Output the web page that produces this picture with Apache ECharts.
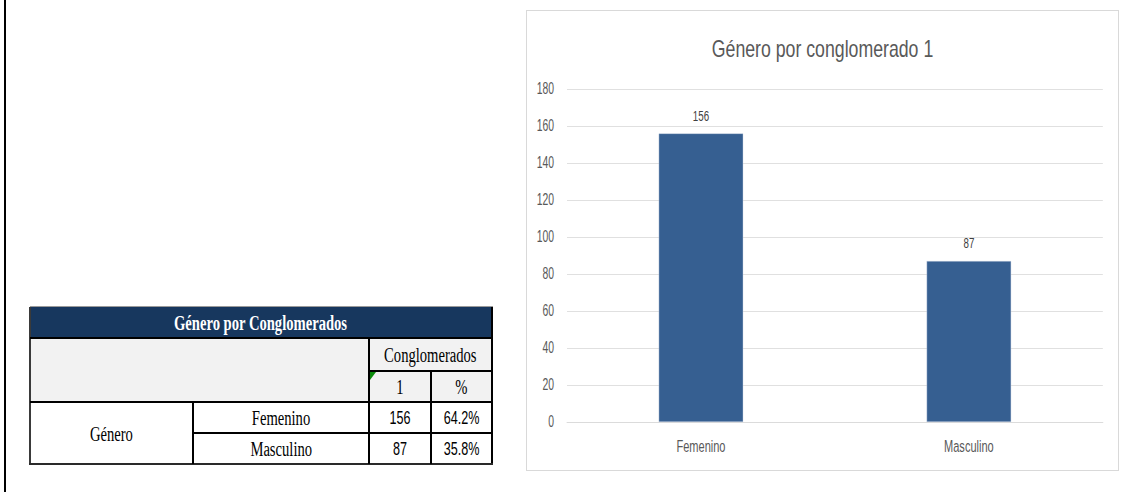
<!DOCTYPE html>
<html lang="es">
<head>
<meta charset="utf-8">
<title>Género por conglomerado 1</title>
<script src="https://cdn.jsdelivr.net/npm/echarts@6/dist/echarts.min.js"></script>
<style>
  html, body { margin: 0; padding: 0; background: #ffffff; }
  body { width: 1127px; height: 492px; position: relative; overflow: hidden; }
  .page-rule { position: absolute; left: 4px; top: 0; width: 2px; height: 492px; background: #000; }
  .cell { position: absolute; box-sizing: border-box; display: flex; align-items: center; justify-content: center; overflow: visible; }
  .cell span { display: inline-block; white-space: nowrap; transform-origin: center center; }
  .serif span { font-family: "Liberation Serif", "DejaVu Serif", serif; font-size: 20px; color: #000; transform: scaleX(0.73); }
  .num span { font-family: "Liberation Sans", Arial, sans-serif; font-size: 18px; color: #000; transform: scaleX(0.7); }
  .line { position: absolute; background: #000; }
  #chartFrame { position: absolute; left: 526px; top: 10px; width: 593px; height: 461px; box-sizing: border-box; border: 1px solid #d9d9d9; background: #fff; overflow: hidden; }
  /* the chart is laid out wider and squeezed horizontally to get condensed lettering */
  #chart { position: absolute; left: 0; top: 0; width: 909px; height: 459px; transform: scaleX(0.65); transform-origin: 0 0; }
</style>
</head>
<body>
<div class="page-rule"></div>
<div id="table"></div>
<div id="chartFrame"><div id="chart"></div></div>
<script>
  // Gender counts for conglomerate 1
  const categories = ['Femenino', 'Masculino'];
  const counts = [156, 87];

  // Value axis ticks
  const yMin = 0;
  const yMax = 180;
  const yStep = 20;

  // Summary table texts
  const tableTitle = 'Género por Conglomerados';
  const groupHeader = 'Conglomerados';
  const columnHeaders = ['1', '%'];
  const rowGroup = 'Género';
  const chartTitle = 'Género por conglomerado 1';

  const total = counts.reduce((a, b) => a + b, 0);
  const shares = counts.map(v => (v / total * 100).toFixed(1) + '%');

  // ---- summary table ----
  const table = document.getElementById('table');
  function cell(x0, y0, x1, y1, bg, cls, text, dy) {
    const d = document.createElement('div');
    d.className = 'cell ' + (cls || '');
    d.style.left = x0 + 'px';
    d.style.top = y0 + 'px';
    d.style.width = (x1 - x0) + 'px';
    d.style.height = (y1 - y0) + 'px';
    d.style.background = bg;
    if (text !== undefined) {
      const s = document.createElement('span');
      s.textContent = text;
      if (dy) s.style.marginTop = dy + 'px';
      d.appendChild(s);
    }
    table.appendChild(d);
    return d;
  }
  function line(x0, y0, x1, y1, color) {
    const d = document.createElement('div');
    d.className = 'line';
    d.style.left = x0 + 'px';
    d.style.top = y0 + 'px';
    d.style.width = (x1 - x0) + 'px';
    d.style.height = (y1 - y0) + 'px';
    if (color) d.style.background = color;
    table.appendChild(d);
  }

  // column / row edges
  const X = [30, 193, 369, 431, 492];
  const Y = [307, 338, 371, 402, 433, 464];

  const title = cell(X[0], Y[0], X[4], Y[1], '#17375e', 'serif', tableTitle, 1);
  title.firstChild.style.color = '#ffffff';
  title.firstChild.style.fontWeight = 'bold';

  cell(X[0], Y[1], X[2], Y[3], '#f2f2f2');
  cell(X[2], Y[1], X[4], Y[2], '#f2f2f2', 'serif', groupHeader, 1);
  cell(X[2], Y[2], X[3], Y[3], '#f2f2f2', 'serif', columnHeaders[0], 2);
  cell(X[3], Y[2], X[4], Y[3], '#f2f2f2', 'serif', columnHeaders[1], 2);

  cell(X[0], Y[3], X[1], Y[5], '#ffffff', 'serif', rowGroup, 3);
  categories.forEach((c, i) => {
    cell(X[1], Y[3 + i], X[2], Y[4 + i], '#ffffff', 'serif', c, 2);
    cell(X[2], Y[3 + i], X[3], Y[4 + i], '#ffffff', 'num', String(counts[i]), 2);
    cell(X[3], Y[3 + i], X[4], Y[4 + i], '#ffffff', 'num', shares[i], 2);
  });

  // borders
  line(X[0], Y[0] - 1, X[4] + 1, Y[0], '#9a9a9a');
  line(X[0] - 1, Y[0], X[0] + 1, Y[5], '#3a3a3a');
  line(X[4] - 1, Y[0], X[4] + 1, Y[5] + 1);
  line(X[0], Y[1] - 1, X[4], Y[1] + 1);
  line(X[2], Y[2] - 1, X[4], Y[2] + 1);
  line(X[0], Y[3] - 1, X[4], Y[3] + 1);
  line(X[1], Y[4] - 1, X[4], Y[4] + 1);
  line(X[0] - 1, Y[5] - 1, X[4] + 1, Y[5] + 1, '#2a2a2a');
  line(X[2] - 1, Y[1], X[2] + 1, Y[5]);
  line(X[3] - 1, Y[2], X[3] + 1, Y[5]);
  line(X[1] - 1, Y[3], X[1] + 1, Y[5]);

  // Excel-style green marker in the corner of the "1" cell
  const mark = document.createElementNS('http://www.w3.org/2000/svg', 'svg');
  mark.setAttribute('width', '8');
  mark.setAttribute('height', '9');
  mark.style.position = 'absolute';
  mark.style.left = (X[2] + 1) + 'px';
  mark.style.top = (Y[2] + 1) + 'px';
  mark.innerHTML = '<polygon points="0,0 6,0 0,8" fill="#0a8a0a"/>';
  table.appendChild(mark);

  // ---- bar chart ----
  const squeeze = 0.65;          // must match the CSS scaleX of #chart
  const frameWidth = 591;        // visible width of the chart frame
  const chart = echarts.init(document.getElementById('chart'), null, { renderer: 'svg' });
  const font = '"Liberation Sans", Arial, sans-serif';
  chart.setOption({
    animation: false,
    backgroundColor: '#ffffff',
    graphic: [{
      type: 'text',
      x: frameWidth / 2 / squeeze,
      y: 38,
      scaleX: 0.77 / squeeze,
      style: {
        text: chartTitle,
        textAlign: 'center',
        textVerticalAlign: 'middle',
        font: 'normal 23px "Liberation Sans", Arial, sans-serif',
        fill: '#595959'
      }
    }],
    grid: { left: 40 / squeeze, right: 15 / squeeze, top: 78, bottom: 48 },
    xAxis: {
      type: 'category',
      data: categories,
      axisLine: { lineStyle: { color: '#d9d9d9', width: 1 } },
      axisTick: { show: false },
      axisLabel: { fontFamily: font, fontSize: 17, color: '#595959', margin: 16 }
    },
    yAxis: {
      type: 'value',
      min: yMin,
      max: yMax,
      interval: yStep,
      axisLine: { show: false },
      axisTick: { show: false },
      splitLine: { lineStyle: { color: '#d9d9d9', width: 1 } },
      axisLabel: { fontFamily: font, fontSize: 16, color: '#595959', margin: 20 }
    },
    series: [{
      type: 'bar',
      data: counts,
      barWidth: '31.5%',
      itemStyle: { color: '#365f91', borderColor: '#c9d4e3', borderWidth: 0.5 },
      label: {
        show: true,
        position: 'top',
        distance: 10,
        fontFamily: font,
        fontSize: 15,
        color: '#404040'
      }
    }]
  });
</script>
</body>
</html>
